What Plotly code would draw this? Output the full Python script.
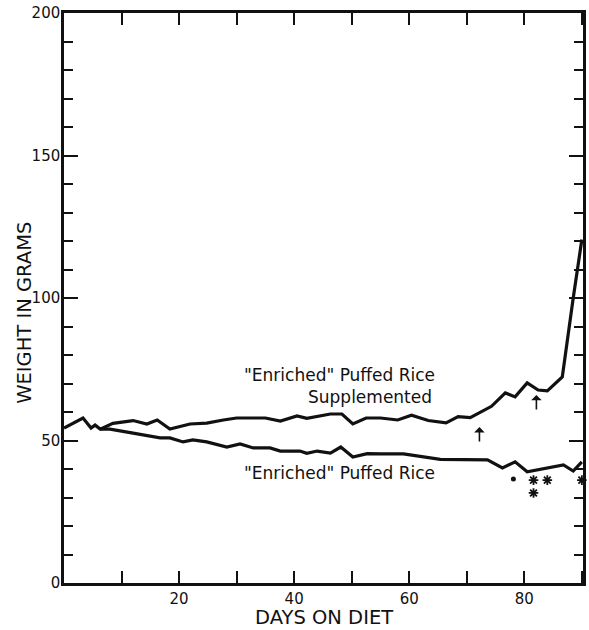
import plotly.graph_objects as go

# Shared start of both curves
start_days = [0, 1.5, 3.3, 4.7, 5.4, 6.3]
start_wt = [54.4, 56.0, 57.9, 54.4, 55.4, 54.0]

# "Enriched" Puffed Rice Supplemented
supp_days = [8.5, 12, 14.4, 16.2, 18.4, 21.9, 24.8, 27.7, 30, 35, 37.6, 40.5, 42.2,
             46.3, 48.3, 50.2, 52.5, 55, 58, 60.4, 63.3, 66.4, 68.5, 70.6, 72.6,
             74.3, 76.7, 78.4, 80.5, 82.4, 84, 86.6, 88.5, 90]
supp_wt = [56.0, 57.0, 55.8, 57.2, 54.0, 55.8, 56.1, 57.2, 57.9, 57.9, 56.8, 58.6, 57.8,
           59.3, 59.3, 55.8, 57.9, 57.9, 57.2, 58.9, 57.0, 56.2, 58.4, 58.0, 60.3,
           62.0, 66.7, 65.3, 70.2, 67.7, 67.4, 72.3, 100.0, 120.5]

# "Enriched" Puffed Rice
rice_days = [8, 12, 16.7, 18.4, 20.7, 22.4, 24.8, 28.3, 30.6, 32.9, 35.8, 37.6, 41,
             42.2, 44, 46.3, 48.1, 50.2, 52.7, 55, 59, 65.4, 73.6, 76.2, 78.4, 80.5,
             86.8, 88.5, 90]
rice_wt = [54.0, 52.6, 50.9, 50.9, 49.5, 50.2, 49.5, 47.7, 48.8, 47.4, 47.4, 46.3, 46.3,
           45.5, 46.3, 45.6, 47.7, 44.2, 45.4, 45.3, 45.3, 43.4, 43.2, 40.4, 42.5, 39.0,
           41.4, 39.3, 42.5]

# Death marks
dot_days = [78.1]
dot_wt = [36.5]
star_days = [81.6, 81.6, 84, 90]
star_wt = [36.1, 31.6, 36.1, 36.1]

# Supplement arrows (tip positions)
arrow_days = [72.2, 82.1]
arrow_wt = [54.7, 66.0]

y_ticks = [0, 50, 100, 150, 200]
x_ticks = [20, 40, 60, 80]

FONT = "DejaVu Sans"
ink = "#111111"

fig = go.Figure()
fig.add_trace(go.Scatter(x=start_days + supp_days, y=start_wt + supp_wt, mode="lines",
                         line=dict(color=ink, width=3.2), showlegend=False))
fig.add_trace(go.Scatter(x=start_days[-1:] + rice_days, y=start_wt[-1:] + rice_wt, mode="lines",
                         line=dict(color=ink, width=3.2), showlegend=False))
fig.add_trace(go.Scatter(x=dot_days, y=dot_wt, mode="markers",
                         marker=dict(symbol="circle", size=5, color=ink), showlegend=False))
fig.add_trace(go.Scatter(x=star_days, y=star_wt, mode="markers", cliponaxis=False,
                         marker=dict(symbol="asterisk-open", size=8, color=ink,
                                     line=dict(color=ink, width=1.8)), showlegend=False))

for xd, yd in zip(arrow_days, arrow_wt):
    fig.add_annotation(x=xd, y=yd, ax=0, ay=16, text="", showarrow=True,
                       arrowhead=1, arrowsize=1.1, arrowwidth=1.6, arrowcolor=ink)

fig.add_annotation(x=64.8, y=73, text='"Enriched" Puffed Rice', showarrow=False,
                   xanchor="right", font=dict(family=FONT, size=17, color=ink))
fig.add_annotation(x=64.3, y=65.3, text="Supplemented", showarrow=False,
                   xanchor="right", font=dict(family=FONT, size=17, color=ink))
fig.add_annotation(x=64.8, y=38.6, text='"Enriched" Puffed Rice', showarrow=False,
                   xanchor="right", font=dict(family=FONT, size=17, color=ink))

# Axis titles
fig.add_annotation(x=0.5, y=0, xref="paper", yref="paper", text="DAYS ON DIET",
                   showarrow=False, yanchor="middle", yshift=-34,
                   font=dict(family=FONT, size=19.5, color=ink))
fig.add_annotation(x=0, y=0.474, xref="paper", yref="paper", text="WEIGHT IN GRAMS",
                   showarrow=False, xanchor="center", xshift=-39, textangle=-90,
                   font=dict(family=FONT, size=19.5, color=ink))

fig.update_layout(
    width=589, height=630,
    margin=dict(l=64, r=6, t=13, b=47, autoexpand=False),
    plot_bgcolor="white", paper_bgcolor="white",
    font=dict(family=FONT, size=15, color=ink),
    xaxis=dict(range=[0, 90.2], tickvals=x_ticks, ticktext=[str(v) for v in x_ticks],
               ticks="inside", ticklen=12, tickwidth=2, tickcolor=ink, automargin=False,
               minor=dict(dtick=10, ticks="inside", ticklen=12, tickwidth=2, tickcolor=ink),
               showline=True, linewidth=2.5, linecolor=ink, mirror="ticks",
               showgrid=False, zeroline=False),
    yaxis=dict(range=[0, 200], tickvals=y_ticks, ticktext=[str(v) for v in y_ticks],
               ticks="inside", ticklen=14, tickwidth=2, tickcolor=ink, automargin=False,
               ticklabelstandoff=-2,
               minor=dict(dtick=10, ticks="inside", ticklen=9, tickwidth=2, tickcolor=ink),
               showline=True, linewidth=2.5, linecolor=ink, mirror="ticks",
               showgrid=False, zeroline=False),
)

fig.write_html("out.html", config={"displayModeBar": False},
               post_script="document.body.style.margin='0px';document.body.style.overflow='hidden';")
